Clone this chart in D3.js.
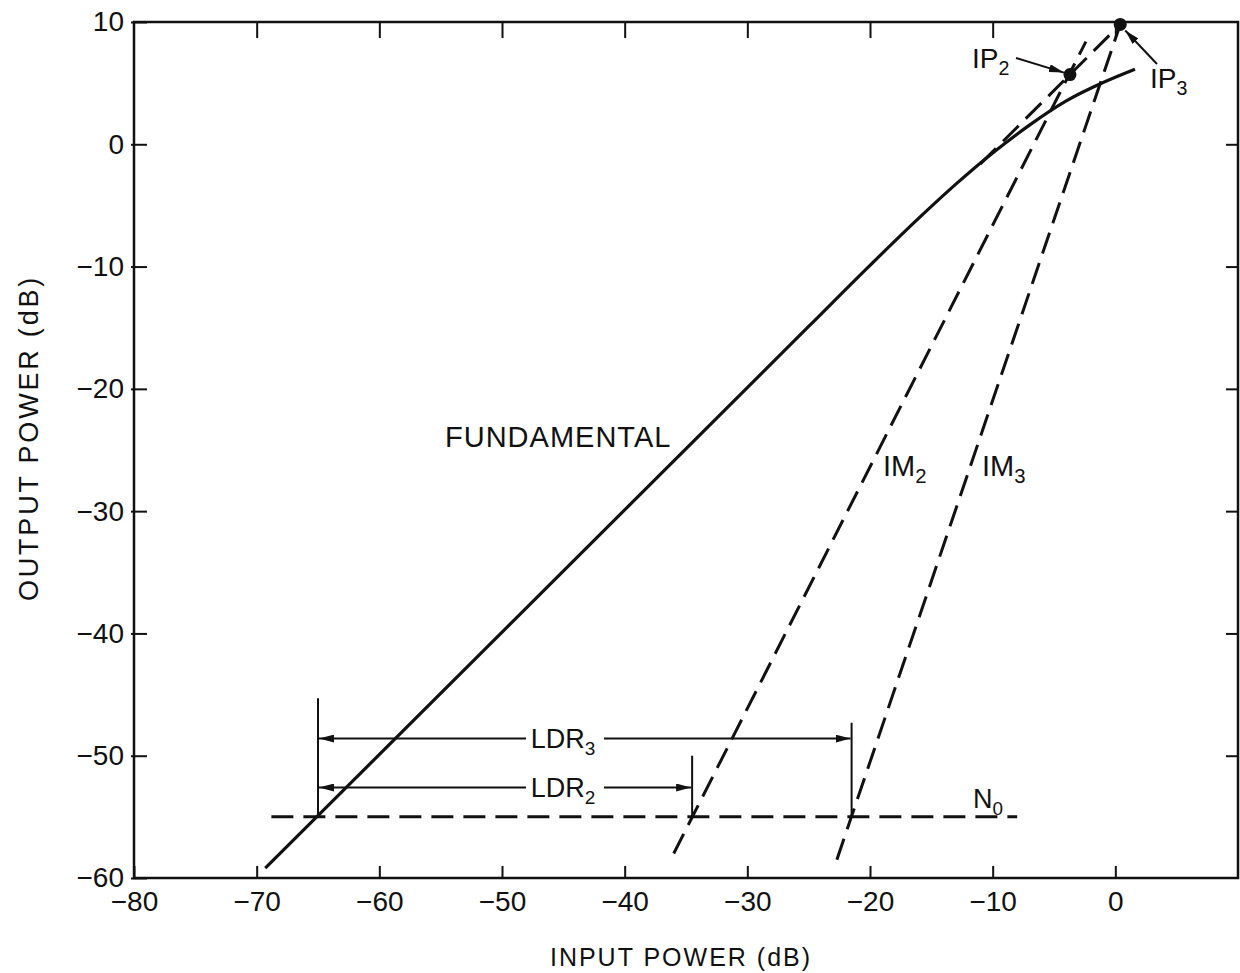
<!DOCTYPE html>
<html><head><meta charset="utf-8">
<script src="https://cdn.jsdelivr.net/npm/d3@7"></script>
<style>
body{margin:0;background:#fff;}
text{font-family:"Liberation Sans",Arial,Helvetica,sans-serif;fill:#111;}
</style>
</head><body>
<svg id="c" width="1240" height="973"></svg>
<script>
// ---- data ----
const xTicks = [-80,-70,-60,-50,-40,-30,-20,-10,0];
const yTicks = [10,0,-10,-20,-30,-40,-50,-60];
const fundIn  = [-69.3,-40,-25,-20,-16,-13,-10,-7,-4,-1,1.6];
const fundOut = [-59.2,-29.9,-14.9,-9.9,-6.02,-3.26,-0.71,1.57,3.55,5.05,6.14];
const extIn  = [-11, 0.4];
const extOut = [-1.6, 9.8];
const im2In  = [-36, -2.4];
const im2Out = [-58.0, 8.4];
const im3In  = [-22.7, 0.4];
const im3Out = [-58.5, 9.8];
const noiseIn  = [-68.8, -8];
const noiseOut = [-55, -55];
const ipIn  = [-3.7, 0.4];
const ipOut = [5.7, 9.8];
const ldrLeft = -65, ldr3Right = -21.5, ldr2Right = -34.5;
const ldr3Level = -48.6, ldr2Level = -52.6;
const ldrLeftTop = -45.3, ldr3RightTop = -47.3, ldr2RightTop = -50.0;

// ---- scales ----
const svg = d3.select("#c");
const L = 134, R = 1238, T = 22, B = 878;
const x = d3.scaleLinear().domain([-80,10]).range([L,R]);
const y = d3.scaleLinear().domain([-60,10]).range([B,T]);

const defs = svg.append("defs");
defs.append("marker").attr("id","arr").attr("markerUnits","userSpaceOnUse")
  .attr("markerWidth",15).attr("markerHeight",8).attr("refX",15).attr("refY",4)
  .attr("orient","auto-start-reverse")
  .append("path").attr("d","M0,0 L15,4 L0,8 Z").attr("fill","#111");

// frame
svg.append("rect").attr("x",L).attr("y",T).attr("width",R-L).attr("height",B-T)
  .attr("fill","none").attr("stroke","#111").attr("stroke-width",2.5);

// axes
const fmt = d3.format("");
const gx = svg.append("g").attr("transform",`translate(0,${B})`)
  .call(d3.axisBottom(x).tickValues(xTicks).tickSize(-12).tickPadding(13).tickFormat(fmt));
const gxt = svg.append("g").attr("transform",`translate(0,${T})`)
  .call(d3.axisTop(x).tickValues(xTicks.slice(1)).tickSize(-16).tickFormat(""));
const gy = svg.append("g").attr("transform",`translate(${L},0)`)
  .call(d3.axisLeft(y).tickValues(yTicks).tickSize(-13).tickPadding(10).tickFormat(fmt));
const gyr = svg.append("g").attr("transform",`translate(${R},0)`)
  .call(d3.axisRight(y).tickValues(yTicks.slice(1,-1)).tickSize(-12).tickFormat(""));
[gx,gxt,gy,gyr].forEach(g=>{
  g.select(".domain").remove();
  g.selectAll("line").attr("stroke","#111").attr("stroke-width",2);
  g.selectAll("text").attr("font-size",28).attr("fill","#111")
   .attr("font-family",'"Liberation Sans",Arial,sans-serif');
});
gy.selectAll(".tick line").attr("x1",-3);

// axis titles
svg.append("text").attr("x",(L+R)/2 - 5).attr("y",966).attr("text-anchor","middle")
  .attr("font-size",25).attr("letter-spacing",2).text("INPUT POWER (dB)");
svg.append("text").attr("transform",`translate(38,${(T+B)/2-12}) rotate(-90)`)
  .attr("text-anchor","middle").attr("font-size",27).attr("letter-spacing",2.8)
  .text("OUTPUT POWER (dB)");

const line = d3.line().x(d=>x(d[0])).y(d=>y(d[1]));
const zip = (a,b)=>a.map((v,i)=>[v,b[i]]);
const dash = "22,10";

// noise floor
svg.append("path").attr("d",line(zip(noiseIn,noiseOut))).attr("fill","none")
  .attr("stroke","#111").attr("stroke-width",3).attr("stroke-dasharray",dash);
// IM2, IM3, fundamental extension
[[im2In,im2Out],[im3In,im3Out],[extIn,extOut]].forEach(([a,b])=>{
  svg.append("path").attr("d",line(zip(a,b))).attr("fill","none")
    .attr("stroke","#111").attr("stroke-width",3).attr("stroke-dasharray",dash);
});
// fundamental
svg.append("path").attr("d",d3.line().curve(d3.curveMonotoneX).x(d=>x(d[0])).y(d=>y(d[1]))(zip(fundIn,fundOut)))
  .attr("fill","none").attr("stroke","#111").attr("stroke-width",3.2);

// intercept points
svg.selectAll("circle.ip").data(zip(ipIn,ipOut)).enter().append("circle")
  .attr("cx",d=>x(d[0])).attr("cy",d=>y(d[1])).attr("r",6.5).attr("fill","#111");

// LDR construction
const ldr = svg.append("g").attr("stroke","#111").attr("stroke-width",2);
ldr.append("line").attr("x1",x(ldrLeft)).attr("x2",x(ldrLeft)).attr("y1",y(ldrLeftTop)).attr("y2",y(-55));
ldr.append("line").attr("x1",x(ldr3Right)).attr("x2",x(ldr3Right)).attr("y1",y(ldr3RightTop)).attr("y2",y(-55));
ldr.append("line").attr("x1",x(ldr2Right)).attr("x2",x(ldr2Right)).attr("y1",y(ldr2RightTop)).attr("y2",y(-55));
function ldrBar(right, level, label, sub){
  ldr.append("line").attr("x1",x(ldrLeft)+1).attr("x2",x(right)-1)
    .attr("y1",y(level)).attr("y2",y(level))
    .attr("marker-start","url(#arr)").attr("marker-end","url(#arr)");
  const cx = 563;
  svg.append("rect").attr("x",cx-37).attr("y",y(level)-14).attr("width",78).attr("height",28).attr("fill","#fff");
  const t = svg.append("text").attr("x",cx).attr("y",y(level)+9).attr("text-anchor","middle")
    .attr("font-size",27);
  t.append("tspan").text(label);
  t.append("tspan").attr("font-size",19).attr("dy",7).text(sub);
}
ldrBar(ldr3Right, ldr3Level, "LDR", "3");
ldrBar(ldr2Right, ldr2Level, "LDR", "2");

// labels
function lab(px, py, main, sub, size, anchor){
  const t = svg.append("text").attr("x",px).attr("y",py).attr("font-size",size).attr("text-anchor",anchor||"start");
  t.append("tspan").text(main);
  if(sub){ t.append("tspan").attr("font-size",size*0.7).attr("dy",7).text(sub); }
  return t;
}
lab(445, 447, "FUNDAMENTAL", null, 29).attr("letter-spacing",1);
lab(883, 476, "IM", "2", 29);
lab(982, 476, "IM", "3", 29);
lab(973, 808, "N", "0", 27);
lab(972, 68, "IP", "2", 28);
lab(1150, 88, "IP", "3", 28);

// annotation arrows
const ann = svg.append("g").attr("stroke","#111").attr("stroke-width",2);
ann.append("line").attr("x1",1016).attr("y1",58).attr("x2",x(ipIn[0])-6).attr("y2",y(ipOut[0])-2).attr("marker-end","url(#arr)");
ann.append("line").attr("x1",1157).attr("y1",64).attr("x2",x(ipIn[1])+5).attr("y2",y(ipOut[1])+6).attr("marker-end","url(#arr)");
</script>
</body></html>
